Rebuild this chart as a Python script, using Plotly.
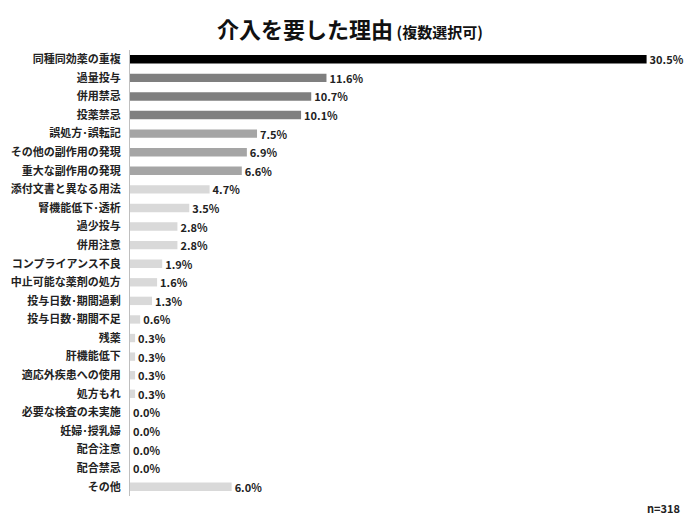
import plotly.graph_objects as go

categories = [
    "同種同効薬の重複", "過量投与", "併用禁忌", "投薬禁忌", "誤処方･誤転記",
    "その他の副作用の発現", "重大な副作用の発現", "添付文書と異なる用法", "腎機能低下･透析",
    "過少投与", "併用注意", "コンプライアンス不良", "中止可能な薬剤の処方",
    "投与日数･期間過剰", "投与日数･期間不足", "残薬", "肝機能低下",
    "適応外疾患への使用", "処方もれ", "必要な検査の未実施", "妊婦･授乳婦",
    "配合注意", "配合禁忌", "その他",
]
values = [30.5, 11.6, 10.7, 10.1, 7.5, 6.9, 6.6, 4.7, 3.5, 2.8, 2.8, 1.9, 1.6,
          1.3, 0.6, 0.3, 0.3, 0.3, 0.3, 0.0, 0.0, 0.0, 0.0, 6.0]
colors = (["#000000"] + ["#7f7f7f"] * 3 + ["#a5a5a5"] * 3 + ["#d9d9d9"] * 17)

font_family = "Noto Sans CJK JP"

# page has an 8px body margin; size the figure to fill the remaining window
W, H = 692, 517
ML, MR, MT, MB = 122, 28, 42, 29
plot_w = W - ML - MR

fig = go.Figure(go.Bar(
    x=values,
    y=categories,
    orientation="h",
    marker=dict(color=colors, line=dict(width=0)),
    text=[f"{v:.1f}%" for v in values],
    textposition="outside",
    constraintext="none",
    textfont=dict(size=11, color="#222222", family=font_family, weight="bold"),
    cliponaxis=False,
    hoverinfo="skip",
))

fig.update_layout(
    width=W, height=H,
    paper_bgcolor="white", plot_bgcolor="white",
    margin=dict(l=ML, r=MR, t=MT, b=MB, autoexpand=False),
    bargap=0.55,
    showlegend=False,
    font=dict(family=font_family, color="#222222"),
    title=dict(
        text="介入を要した理由<span style='font-size:15px'> (複数選択可)</span>",
        x=342 / W, xref="container", y=1 - 22 / H, yref="container",
        xanchor="center", yanchor="middle",
        font=dict(size=22, color="#111111", family=font_family, weight="bold"),
    ),
    annotations=[dict(
        text="n=318", x=(674 - ML) / plot_w, xref="paper", y=-0.005, yref="paper",
        xanchor="right", yanchor="top", showarrow=False,
        font=dict(size=11, color="#222222", family=font_family, weight="bold"),
    )],
)

fig.update_xaxes(range=[0, 32], showgrid=False, zeroline=False,
                 showticklabels=False, showline=False, ticks="")
fig.update_yaxes(autorange="reversed", showgrid=False, ticks="",
                 showline=True, linecolor="#bfbfbf", linewidth=1,
                 ticklabelstandoff=6,
                 tickfont=dict(size=11, color="#222222", family=font_family, weight="bold"))

fig.write_html("out.html")
